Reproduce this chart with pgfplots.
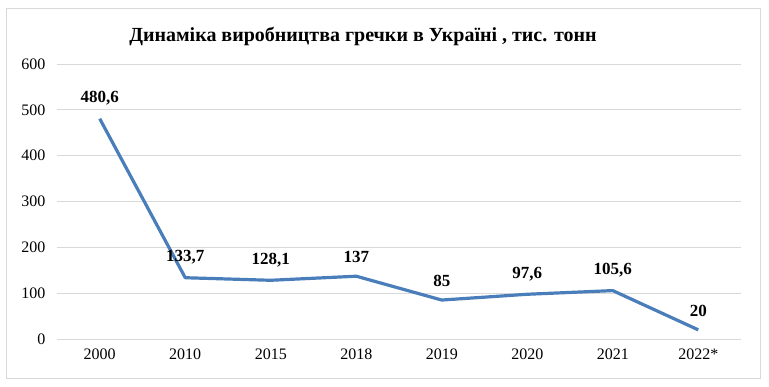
\documentclass[border=0pt]{standalone}
\usepackage{fontspec}
\setmainfont{Liberation Serif}
\usepackage{pgfplots}
\pgfplotsset{compat=1.18}
\definecolor{lineblue}{RGB}{74,126,187}
\definecolor{gridgray}{RGB}{217,217,217}
\definecolor{framegray}{RGB}{217,217,217}
\begin{document}
\begin{tikzpicture}
\useasboundingbox (-57pt,-47pt) rectangle (712pt,339pt);
\draw[framegray, line width=0.9pt] (-51pt,-39pt) rectangle (703pt,331pt);
\begin{axis}[
  at={(0pt,0pt)}, anchor=south west,
  scale only axis,
  width=684pt, height=275pt,
  xmin=-0.5, xmax=7.5,
  ymin=0, ymax=600,
  ytick={0,100,...,600},
  xtick={0,...,7},
  xticklabels={2000,2010,2015,2018,2019,2020,2021,2022*},
  axis line style={draw=none},
  major tick length=0pt,
  ymajorgrids,
  grid style={gridgray, line width=0.9pt},
  /pgf/number format/assume math mode=true,
  ticklabel style={font=\fontsize{16}{16}\selectfont},
  yticklabel style={xshift=-8pt},
  xticklabel style={yshift=-6pt},
  clip=false,
  point meta=explicit symbolic,
  nodes near coords,
  nodes near coords style={text=black, font=\bfseries\fontsize{17}{17}\selectfont, anchor=south, inner sep=0pt, yshift=12pt},
]
\addplot[lineblue, line width=3.2pt, line join=round, mark=none] coordinates {
  (0,480.6) [480,6]
  (1,133.7) [133,7]
  (2,128.1) [128,1]
  (3,137) [137]
  (4,85) [85]
  (5,97.6) [97,6]
  (6,105.6) [105,6]
  (7,20) [20]
};
\end{axis}
\node[anchor=base, font=\bfseries\fontsize{20}{20}\selectfont] at (306pt,297pt) {Динаміка виробництва гречки в Україні , тис. тонн};
\end{tikzpicture}
\end{document}
